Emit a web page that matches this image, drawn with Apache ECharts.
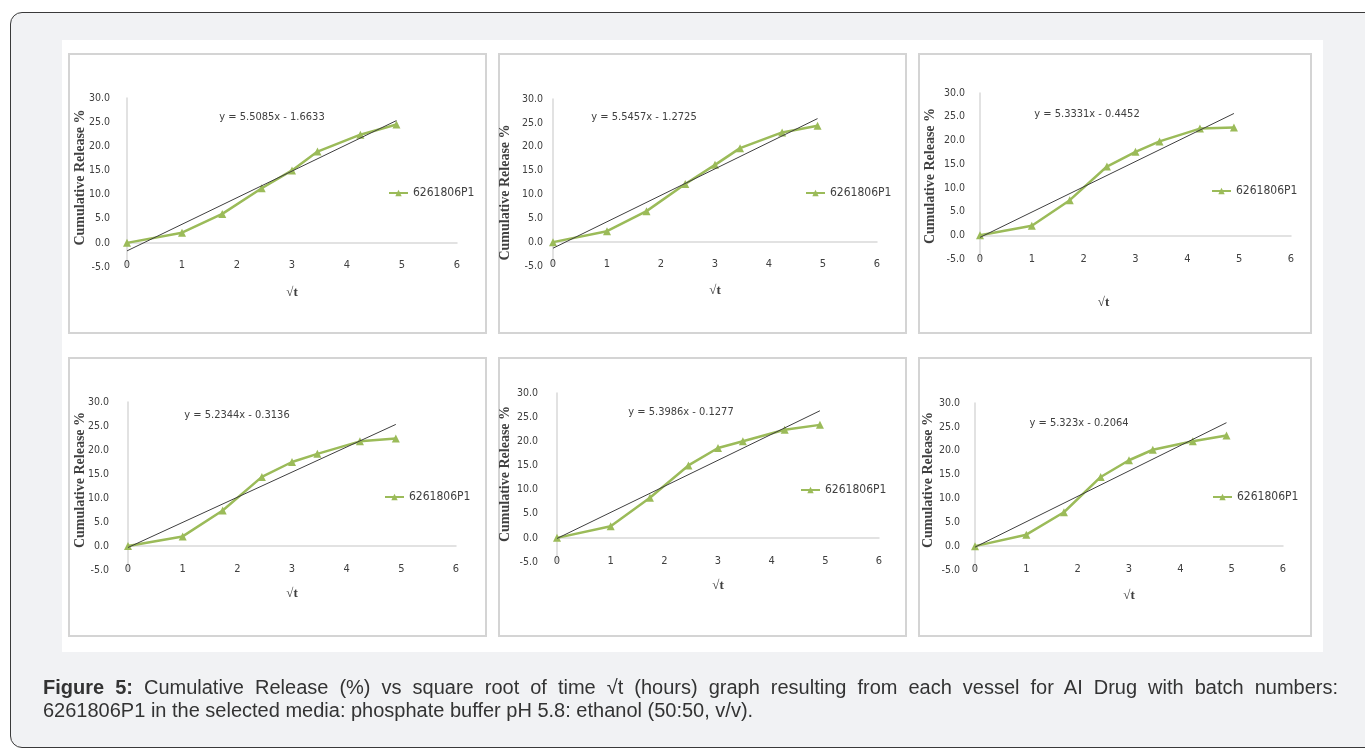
<!DOCTYPE html>
<html>
<head>
<meta charset="utf-8">
<script src="https://cdn.jsdelivr.net/npm/echarts@6/dist/echarts.min.js"></script>
<style>
  html, body { margin: 0; padding: 0; width: 1365px; height: 749px; overflow: hidden; background: #ffffff; }
  #box { position: absolute; left: 10px; top: 12px; width: 1380px; height: 734px; border: 1.5px solid #3a3a3a; border-radius: 12px; background: #f1f2f4; }
  #img { position: absolute; left: 62px; top: 40px; width: 1261px; height: 612px; background: #ffffff; }
  .panel { position: absolute; border: 2px solid #d4d4d4; box-sizing: border-box; background: #ffffff; }
  #chart { position: absolute; left: 0; top: 0; width: 1365px; height: 749px; }
  #caption { position: absolute; left: 43px; top: 676px; width: 1295px; font-family: "Liberation Sans", Arial, sans-serif; font-size: 20px; line-height: 23px; color: #333333; }
  #caption .l1 { text-align: justify; text-align-last: justify; white-space: nowrap; }
  #caption b { font-weight: bold; }
</style>
</head>
<body>
<div id="box"></div>
<div id="img"></div>
<div class="panel" style="left:68px;top:53px;width:419px;height:281px;"></div>
<div class="panel" style="left:498px;top:53px;width:409px;height:281px;"></div>
<div class="panel" style="left:918px;top:53px;width:394px;height:281px;"></div>
<div class="panel" style="left:68px;top:357px;width:419px;height:280px;"></div>
<div class="panel" style="left:498px;top:357px;width:409px;height:280px;"></div>
<div class="panel" style="left:918px;top:357px;width:394px;height:280px;"></div>
<div id="chart"></div>
<div id="caption">
  <div class="l1"><b>Figure 5:</b> Cumulative Release (%) vs square root of time √t (hours) graph resulting from each vessel for AI Drug with batch numbers:</div>
  <div>6261806P1 in the selected media: phosphate buffer pH 5.8: ethanol (50:50, v/v).</div>
</div>
<script>
// ---- data ----
const sqrtTime = [0, 1, 1.732, 2.449, 3, 3.464, 4.243, 4.899];
const vessel1 = [0, 2.1, 6.0, 11.3, 15.0, 18.9, 22.4, 24.5];
const vessel2 = [0, 2.3, 6.5, 12.2, 16.2, 19.7, 23.0, 24.4];
const vessel3 = [0, 2.0, 7.4, 14.5, 17.6, 19.8, 22.5, 22.7];
const vessel4 = [0, 2.0, 7.4, 14.4, 17.5, 19.2, 21.8, 22.4];
const vessel5 = [0, 2.4, 8.3, 15.0, 18.6, 20.0, 22.4, 23.4];
const vessel6 = [0, 2.4, 7.1, 14.5, 18.0, 20.2, 22.0, 23.2];
const trendSlopes = [5.5085, 5.5457, 5.3331, 5.2344, 5.3986, 5.323];
const trendIntercepts = [-1.6633, -1.2725, -0.4452, -0.3136, -0.1277, -0.2064];
const equationLabels = ["y = 5.5085x - 1.6633", "y = 5.5457x - 1.2725", "y = 5.3331x - 0.4452",
                        "y = 5.2344x - 0.3136", "y = 5.3986x - 0.1277", "y = 5.323x - 0.2064"];
const seriesName = "6261806P1";
const xAxisTitle = "√t";
const yAxisTitle = "Cumulative Release %";
const xTicks = [0, 1, 2, 3, 4, 5, 6];
const yTicks = [-5, 0, 5, 10, 15, 20, 25, 30];

const vessels = [vessel1, vessel2, vessel3, vessel4, vessel5, vessel6];

// ---- layout (pixels) ----
const layout = [
  { grid: [127, 98, 330, 169], eq: [272, 117], legend: [388, 187], xGap: 19, yGap: 40, xMargin: -7, yMargin: 17, xNamePad: 0, yNamePad: [0, 0, 0, 10] },
  { grid: [553, 99, 324, 167], eq: [644, 117], legend: [805, 187], xGap: 18, yGap: 41, xMargin: -7, yMargin: 10, xNamePad: 0, yNamePad: [0, 20, 0, 0] },
  { grid: [980, 93, 311, 166], eq: [1087, 114], legend: [1211, 185], xGap: 37, yGap: 43, xMargin: -5, yMargin: 15, xNamePad: 64, yNamePad: [0, 0, 0, 0] },
  { grid: [128, 402, 328, 168], eq: [237, 415], legend: [384, 491], xGap: 17, yGap: 41, xMargin: -6, yMargin: 19, xNamePad: 0, yNamePad: [0, 0, 0, 12] },
  { grid: [557, 393, 322, 169], eq: [681, 412], legend: [800, 484], xGap: 17, yGap: 45, xMargin: -6, yMargin: 19, xNamePad: 0, yNamePad: [0, 0, 0, 7] },
  { grid: [975, 403, 308, 167], eq: [1079, 423], legend: [1212, 491], xGap: 19, yGap: 40, xMargin: -6, yMargin: 15, xNamePad: 0, yNamePad: [0, 0, 0, 13] }
];

const green = '#9bbb59';
const axisGray = '#d9d9d9';
const labelFont = '"Liberation Sans Narrow", "DejaVu Sans Condensed", "Liberation Sans", sans-serif';
const titleFont = '"Liberation Serif", "DejaVu Serif", serif';

const grids = [], xAxes = [], yAxes = [], series = [], legends = [], graphics = [];
layout.forEach((L, i) => {
  grids.push({ left: L.grid[0], top: L.grid[1], width: L.grid[2], height: L.grid[3], containLabel: false });
  xAxes.push({
    type: 'value', gridIndex: i, min: xTicks[0], max: xTicks[xTicks.length - 1], interval: 1,
    axisLine: { show: true, onZero: true, lineStyle: { color: axisGray, width: 1.5 } },
    axisTick: { show: false }, splitLine: { show: false },
    axisLabel: { margin: L.xMargin, color: '#404040', fontSize: 11, fontFamily: labelFont },
    name: xAxisTitle, nameLocation: 'middle', nameGap: L.xGap, nameMoveOverlap: false,
    nameTextStyle: { fontFamily: titleFont, fontWeight: 'bold', fontSize: 13, color: '#404040',
                     padding: [0, L.xNamePad, 0, 0] }
  });
  yAxes.push({
    type: 'value', gridIndex: i, min: yTicks[0], max: yTicks[yTicks.length - 1], interval: 5,
    axisLine: { show: true, lineStyle: { color: axisGray, width: 1.5 } },
    axisTick: { show: false }, splitLine: { show: false },
    axisLabel: { margin: L.yMargin, color: '#404040', fontSize: 10.5, fontFamily: labelFont,
                 formatter: v => v.toFixed(1) },
    name: yAxisTitle, nameLocation: 'middle', nameRotate: 90, nameGap: L.yGap, nameMoveOverlap: false,
    nameTextStyle: { fontFamily: titleFont, fontWeight: 'bold', fontSize: 14, color: '#404040', padding: L.yNamePad }
  });
  series.push({
    name: seriesName, type: 'line', xAxisIndex: i, yAxisIndex: i,
    data: sqrtTime.map((x, k) => [x, vessels[i][k]]),
    symbol: 'triangle', symbolSize: 8, showSymbol: true,
    lineStyle: { color: green, width: 2.5 }, itemStyle: { color: green },
    z: 2, animation: false
  });
  const xEnd = sqrtTime[sqrtTime.length - 1];
  series.push({
    name: 'Linear (' + seriesName + ')', type: 'line', xAxisIndex: i, yAxisIndex: i,
    data: [[0, trendIntercepts[i]], [xEnd, trendSlopes[i] * xEnd + trendIntercepts[i]]],
    symbol: 'none', lineStyle: { color: '#3f3f3f', width: 1 }, z: 3, animation: false
  });
  legends.push({
    data: [seriesName], left: L.legend[0], top: L.legend[1], orient: 'vertical', padding: 0,
    itemWidth: 19, itemHeight: 8, selectedMode: false,
    textStyle: { color: '#404040', fontSize: 12, fontFamily: labelFont }
  });
  graphics.push({
    type: 'text', x: L.eq[0], y: L.eq[1],
    style: { text: equationLabels[i], fill: '#404040', font: '11px ' + labelFont, textAlign: 'center', textVerticalAlign: 'middle' }
  });
});

const chart = echarts.init(document.getElementById('chart'), null, { renderer: 'canvas' });
chart.setOption({
  animation: false,
  backgroundColor: 'transparent',
  grid: grids, xAxis: xAxes, yAxis: yAxes, series: series, legend: legends,
  graphic: graphics
});
</script>
</body>
</html>
